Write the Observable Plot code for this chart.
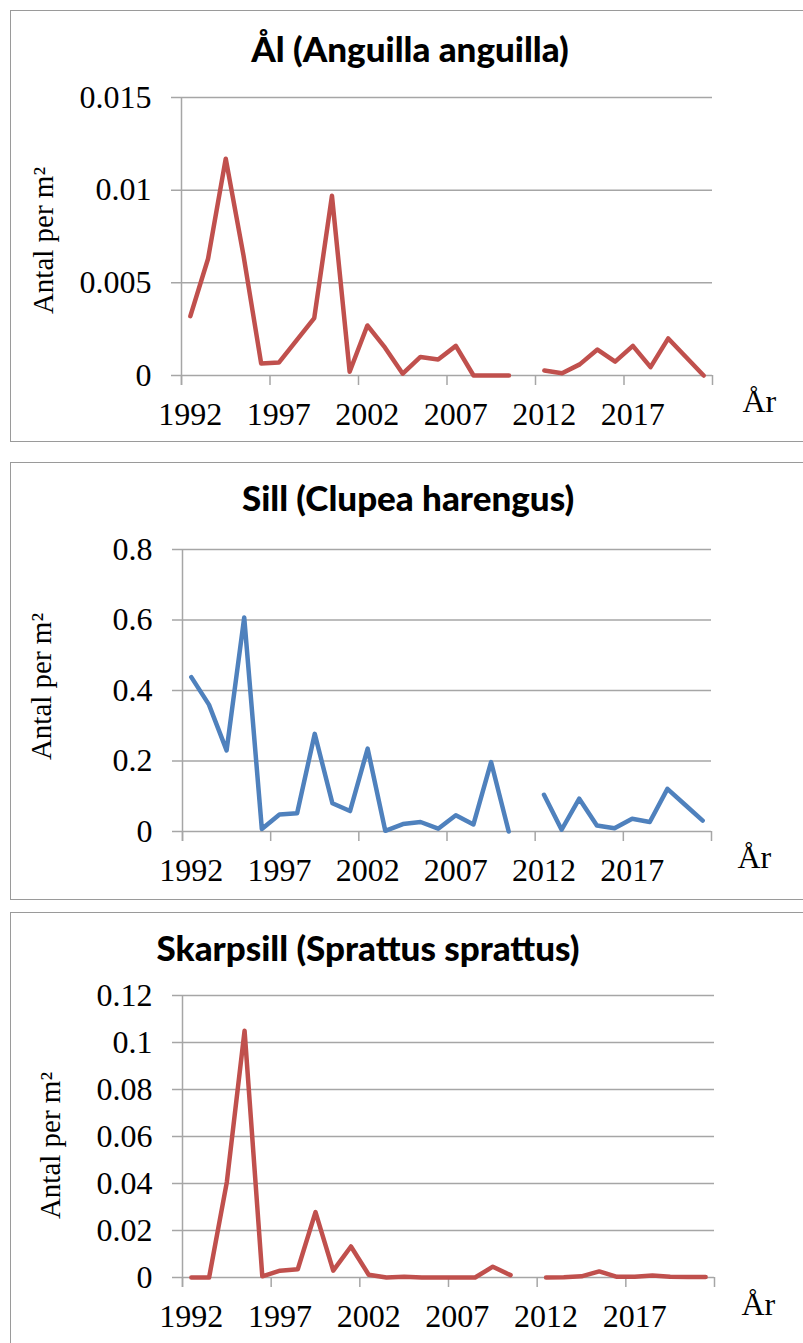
<!DOCTYPE html>
<html>
<head>
<meta charset="utf-8">
<script src="https://cdn.jsdelivr.net/npm/d3@7"></script>
<script src="https://cdn.jsdelivr.net/npm/@observablehq/plot@0.6"></script>
<style>
  html, body { margin: 0; padding: 0; background: #fff; overflow: hidden; width: 803px; height: 1343px; }
  .panel { position: absolute; left: 10px; width: 900px; border: 1.5px solid #9a9a9a; box-sizing: border-box; background: #fff; }
  .title { position: absolute; font-family: Lato, "Open Sans", sans-serif; font-weight: 900; font-size: 35px; white-space: nowrap; color: #000; transform: translateX(-50%); line-height: 1; }
  .chart { position: absolute; left: 0; }
  .chart text { font-family: "Liberation Serif", "Times New Roman", Times, "DejaVu Serif", serif !important; fill: #000; }
</style>
</head>
<body>
<script>
// ---- data ----
const years = [1992, 1993, 1994, 1995, 1996, 1997, 1998, 1999, 2000, 2001,
               2002, 2003, 2004, 2005, 2006, 2007, 2008, 2009, 2010, 2011,
               2012, 2013, 2014, 2015, 2016, 2017, 2018, 2019, 2020, 2021];
const labelYears = [1992, 1997, 2002, 2007, 2012, 2017];
const categoryBoundaries = [1991.5, 1996.5, 2001.5, 2006.5, 2011.5, 2016.5, 2021.5];

const alValues = [0.0032, 0.0063, 0.0117, 0.0065, 0.00065, 0.0007, 0.0019, 0.0031, 0.0097, 0.0002,
                  0.0027, 0.0015, 0.0001, 0.001, 0.00086, 0.0016, 0, 0, 0, null,
                  0.00027, 0.00012, 0.0006, 0.0014, 0.00075, 0.0016, 0.00045, 0.002, 0.001, 0];
const sillValues = [0.438, 0.36, 0.23, 0.607, 0.007, 0.048, 0.052, 0.277, 0.08, 0.058,
                    0.235, 0.002, 0.021, 0.027, 0.008, 0.046, 0.02, 0.197, 0, null,
                    0.104, 0.005, 0.093, 0.017, 0.009, 0.036, 0.027, 0.121, 0.076, 0.031];
const skarpsillValues = [0, 0, 0.0406, 0.105, 0.0005, 0.0029, 0.0035, 0.0278, 0.0029, 0.0132,
                         0.0012, 0, 0.0003, 0, 0, 0, 0, 0.0046, 0.001, null,
                         0, 0.0001, 0.0005, 0.0026, 0.0003, 0.0003, 0.0009, 0.0003, 0.0002, 0.0002];

const alTicks = [0, 0.005, 0.01, 0.015];
const sillTicks = [0, 0.2, 0.4, 0.6, 0.8];
const skarpsillTicks = [0, 0.02, 0.04, 0.06, 0.08, 0.1, 0.12];

const titles = ["Ål (Anguilla anguilla)", "Sill (Clupea harengus)", "Skarpsill (Sprattus sprattus)"];
const yLabel = "Antal per m²";
const xLabel = "År";

// ---- layout ----
const panels = [
  {values: alValues, ticks: alTicks, title: titles[0], color: "#C0504D",
   boxTop: 10, boxHeight: 432, titleX: 410, titleTop: 31,
   svgTop: 10, svgHeight: 432, mt: 87, mb: 67, ml: 181, mr: 91,
   ylDx: -138, ylDy: 4, arDx: 30, arDy: 36},
  {values: sillValues, ticks: sillTicks, title: titles[1], color: "#4F81BD",
   boxTop: 462, boxHeight: 438, titleX: 408, titleTop: 480,
   svgTop: 462, svgHeight: 437, mt: 87, mb: 68, ml: 182, mr: 92,
   ylDx: -141, ylDy: -4, arDx: 26, arDy: 36},
  {values: skarpsillValues, ticks: skarpsillTicks, title: titles[2], color: "#C0504D",
   boxTop: 912, boxHeight: 500, titleX: 368, titleTop: 930,
   svgTop: 912, svgHeight: 431, mt: 83, mb: 66, ml: 182, mr: 89,
   ylDx: -132, ylDy: 9, arDx: 27, arDy: 37}
];

const grid = "#a6a6a6";
const serif = "Liberation Serif";

panels.forEach(p => {
  const box = document.createElement("div");
  box.className = "panel";
  box.style.top = p.boxTop + "px";
  box.style.height = p.boxHeight + "px";
  document.body.appendChild(box);
});

panels.forEach(p => {
  const data = years.map((yr, i) => ({year: yr, value: p.values[i]}));
  const chart = Plot.plot({
    width: 803,
    height: p.svgHeight,
    marginTop: p.mt, marginBottom: p.mb, marginLeft: p.ml, marginRight: p.mr,
    style: {background: "transparent", fontFamily: serif, fontSize: "32px", color: "#000", overflow: "visible"},
    x: {type: "linear", domain: [1991.5, 2021.5]},
    y: {domain: [0, p.ticks[p.ticks.length - 1]]},
    marks: [
      Plot.ruleY(p.ticks, {stroke: grid, strokeWidth: 1.5, insetLeft: -10}),
      Plot.ruleX([categoryBoundaries[0]], {stroke: grid, strokeWidth: 1.5, insetBottom: -10}),
      Plot.ruleX(categoryBoundaries, {y1: 0, y2: 0, stroke: grid, strokeWidth: 1.5, insetBottom: -10}),
      Plot.axisY(p.ticks, {tickSize: 0, tickPadding: 30, tickFormat: d => String(d), label: null, fontFamily: serif, fontSize: 32}),
      Plot.axisX(labelYears, {tickSize: 0, tickPadding: 27, tickFormat: d => String(d), label: null, fontFamily: serif, fontSize: 32}),
      Plot.line(data, {x: "year", y: "value", stroke: p.color, strokeWidth: 4.5, strokeLinejoin: "round", strokeLinecap: "round"}),
      Plot.text([yLabel], {frameAnchor: "left", textAnchor: "middle", rotate: -90, dx: p.ylDx, dy: p.ylDy, fontSize: 29, fontFamily: serif}),
      Plot.text([xLabel], {frameAnchor: "bottom-right", textAnchor: "start", dx: p.arDx, dy: p.arDy, fontSize: 32, fontFamily: serif})
    ]
  });
  chart.classList.add("chart");
  chart.style.top = p.svgTop + "px";
  document.body.appendChild(chart);

  const t = document.createElement("div");
  t.className = "title";
  t.textContent = p.title;
  t.style.left = p.titleX + "px";
  t.style.top = p.titleTop + "px";
  document.body.appendChild(t);
});
</script>
</body>
</html>
